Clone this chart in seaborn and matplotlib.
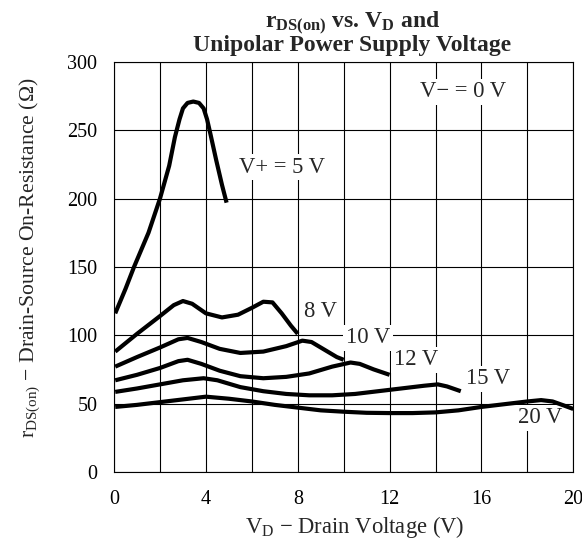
import pandas as pd
import matplotlib
matplotlib.use("Agg")
import matplotlib.pyplot as plt
import seaborn as sns

sns.set_style("white")
plt.rcParams['font.family'] = ['Liberation Serif', 'DejaVu Serif']
plt.rcParams['mathtext.fontset'] = 'custom'
plt.rcParams['mathtext.rm'] = 'Liberation Serif'
plt.rcParams['mathtext.it'] = 'Liberation Serif'
plt.rcParams['mathtext.bf'] = 'Liberation Serif:bold'

TICK_FS = 14.5
LABEL_FS = 16.3
TITLE_FS = 17

# curves (V_D in volts, r_DS(on) in ohms)
vd_5 = [0.05, 0.5, 0.87, 1.5, 2.0, 2.4, 2.65, 2.85, 3.0, 3.2, 3.45, 3.7, 3.9, 4.05, 4.2, 4.45, 4.7, 4.9]
r_5 = [116, 134, 150, 175, 200, 224, 245, 258, 266, 270, 271, 270, 266, 258, 247, 228, 210, 197]

vd_8 = [0.05, 1, 2, 2.6, 3.0, 3.4, 4.0, 4.7, 5.4, 6.0, 6.5, 6.9, 7.3, 7.7, 8.0]
r_8 = [88, 101, 114, 122, 125, 123, 116, 113, 115, 120, 124.5, 124, 116, 107, 101]

vd_10 = [0.05, 1, 2, 2.8, 3.2, 3.8, 4.6, 5.5, 6.5, 7.5, 8.2, 8.6, 9.2, 9.7, 10.0]
r_10 = [77, 84, 91, 97, 98, 95, 90, 87, 88, 92, 96, 95, 89, 84, 82]

vd_12 = [0.05, 1, 2, 2.8, 3.2, 3.8, 4.6, 5.5, 6.5, 7.5, 8.5, 9.5, 10.3, 10.7, 11.3, 12.0]
r_12 = [67, 71, 76, 81, 82, 79, 74, 70, 68.5, 69.5, 72, 77, 80, 79, 75, 71]

vd_15 = [0.05, 1, 2, 3, 3.9, 4.5, 5.5, 6.5, 7.5, 8.5, 9.5, 10.5, 11.5, 12.5, 13.5, 14.1, 14.5, 15.1]
r_15 = [58.5, 61, 64, 67, 68.5, 67, 62, 59, 57, 56, 56, 57, 59, 61, 63, 64, 62.5, 59]

vd_20 = [0.05, 1, 2, 3, 4, 5, 6, 7, 8, 9, 10, 11, 12, 13, 14, 15, 16, 17, 18, 18.6, 19.1, 19.6, 20.0]
r_20 = [47.5, 49, 51, 53, 55, 53.5, 51.5, 49, 47, 45, 44, 43.2, 43, 43, 43.5, 45, 47.5, 49.5, 51.5, 52.5, 51.5, 48.5, 46]

supply = ["5 V", "8 V", "10 V", "12 V", "15 V", "20 V"]
curves = [(vd_5, r_5), (vd_8, r_8), (vd_10, r_10), (vd_12, r_12), (vd_15, r_15), (vd_20, r_20)]

# label text and where it sits (data coords)
label_text = ["V+ = 5 V", "8 V", "10 V", "12 V", "15 V", "20 V", "V\u2212 = 0 V"]
label_x = [7.3, 9.0, 11.05, 13.15, 16.3, 18.57, 15.2]
label_y = [223, 117, 98, 82, 68, 39.5, 278]

frames = []
for name, (x, y) in zip(supply, curves):
    frames.append(pd.DataFrame({'vd': x, 'r': y, 'supply': name}))
df = pd.concat(frames, ignore_index=True)

fig = plt.figure(figsize=(5.82, 5.48), dpi=100)
ax = fig.add_axes([0.196, 0.139, 0.789, 0.748])

sns.lineplot(data=df, x='vd', y='r', units='supply', estimator=None, sort=False,
             color='black', linewidth=3.0, ax=ax, zorder=3,
             solid_capstyle='butt', solid_joinstyle='round')

ax.set_xlim(0, 20)
ax.set_ylim(0, 300)
ax.set_xticks(range(0, 21, 2))
ax.set_xticklabels([str(v) if v % 4 == 0 else '' for v in range(0, 21, 2)])
ax.set_yticks(range(0, 301, 50))
ax.tick_params(length=0, labelsize=TICK_FS, colors='black')
ax.tick_params(axis='x', pad=13)
ax.tick_params(axis='y', pad=12)
ax.grid(True, color='black', linewidth=0.8)
ax.set_axisbelow(True)
for s in ax.spines.values():
    s.set_color('black')
    s.set_linewidth(0.8)

for t, x, y in zip(label_text, label_x, label_y):
    ax.text(x, y, t, fontsize=LABEL_FS, ha='center', va='center', zorder=2,
            bbox=dict(facecolor='white', edgecolor='none', pad=2))

ax.set_xlabel(r"V$_{\mathrm{D}}$ $-$ Drain Voltage (V)", fontsize=LABEL_FS, va='center')
ax.xaxis.set_label_coords(0.523, -0.134)
ax.set_ylabel(r"r$_{\mathrm{DS(on)}}$ $-$ Drain-Source On-Resistance ($\Omega$)", fontsize=15.6, va='center')
ax.yaxis.set_label_coords(-0.183, 0.522)

fig.text(0.6057, 0.949, r"$\mathbf{r}_{\mathbf{DS(on)}}$ vs. $\mathbf{V}_{\mathbf{D}}$ and",
         fontsize=TITLE_FS, fontweight='bold', ha='center', va='baseline')
fig.text(0.6057, 0.907, "Unipolar Power Supply Voltage",
         fontsize=TITLE_FS, fontweight='bold', ha='center', va='baseline')

fig.savefig("out.png", dpi=100)
